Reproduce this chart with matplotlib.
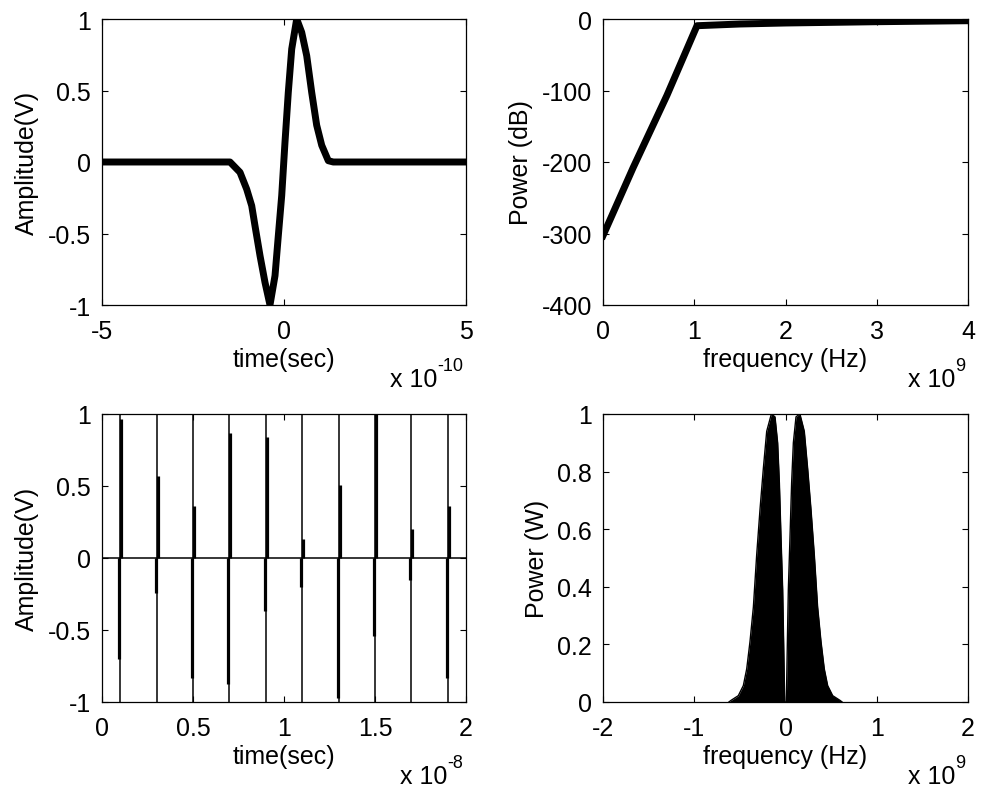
import matplotlib
matplotlib.use("Agg")
import matplotlib.pyplot as plt
from matplotlib.ticker import FuncFormatter, FixedLocator
from matplotlib.transforms import offset_copy

plt.rcParams['font.family'] = ['Liberation Sans', 'DejaVu Sans']
FS = 18

# ---- Data: single pulse (time in 1e-10 s, amplitude in V)
pulse_t = [-5.0, -1.484, -1.209, -1.025, -0.887, -0.797, -0.659, -0.522, -0.385,
           -0.247, -0.156, -0.063, 0.027, 0.118, 0.212, 0.349, 0.486, 0.624,
           0.761, 0.898, 1.036, 1.217, 1.354, 5.0]
pulse_v = [0.0, 0.0, -0.072, -0.19, -0.306, -0.446, -0.655, -0.842, -1.0,
           -0.795, -0.515, -0.235, 0.138, 0.487, 0.79, 1.0, 0.907, 0.743,
           0.487, 0.257, 0.117, 0.009, 0.0, 0.0]

# ---- Data: power spectrum in dB (frequency in 1e9 Hz)
psd_f = [0.0, 0.33, 0.70, 1.03, 1.5, 2.0, 3.0, 4.0]
psd_db = [-303, -208, -107, -9.4, -7, -5.6, -3.8, -2.4]

# ---- Data: pulse train (pulse centres in 1e-8 s)
train_t = [0.1, 0.3, 0.5, 0.7, 0.9, 1.1, 1.3, 1.5, 1.7, 1.9]
train_pos = [0.965, 0.57, 0.36, 0.87, 0.84, 0.13, 0.51, 1.0, 0.20, 0.36]
train_neg = [-0.70, -0.24, -0.83, -0.875, -0.37, -0.20, -0.97, -0.54, -0.15, -0.83]

# ---- Data: power spectrum in W (frequency in 1e9 Hz)
spec_f = [-0.62, -0.60, -0.517, -0.462, -0.425, -0.389, -0.352, -0.316, -0.279,
          -0.243, -0.206, -0.155, -0.115, -0.086, -0.067, -0.049, -0.031, -0.02,
          -0.009, 0.009, 0.02, 0.031, 0.049, 0.067, 0.086, 0.115, 0.158, 0.206,
          0.243, 0.279, 0.316, 0.352, 0.389, 0.425, 0.462, 0.517, 0.60, 0.62]
spec_p = [0.0, 0.005, 0.022, 0.057, 0.115, 0.21, 0.33, 0.51, 0.67,
          0.81, 0.94, 1.0, 0.99, 0.90, 0.76, 0.57, 0.39, 0.20,
          0.0, 0.0, 0.20, 0.39, 0.57, 0.76, 0.90, 0.99, 1.0, 0.94,
          0.81, 0.67, 0.51, 0.33, 0.21, 0.115, 0.057, 0.022, 0.005, 0.0]

W, H = 981, 804
fig = plt.figure(figsize=(W / 100, H / 100), dpi=100)
renderer = fig.canvas.get_renderer()


def rect(x0, y0, x1, y1):
    return [x0 / W, 1 - y1 / H, (x1 - x0) / W, (y1 - y0) / H]


def style(ax, xlabel, ylabel, mult):
    ax.tick_params(direction='in', length=4, width=0.8, top=True, right=True,
                   labelsize=FS)
    ax.tick_params(axis='x', pad=10)
    ax.tick_params(axis='y', pad=8)
    for s in ax.spines.values():
        s.set_linewidth(0.9)
    ax.set_xlabel(xlabel, fontsize=FS, labelpad=3)
    ax.set_ylabel(ylabel, fontsize=FS, labelpad=6)
    # multiplier "x 10^n" below the right end of the x axis
    tr = offset_copy(ax.transAxes, fig=fig, x=-4 / 100 * 72 / 72, y=0, units='dots')
    base = offset_copy(ax.transAxes, fig=fig, x=-4, y=-81, units='dots')
    sup = ax.text(1.0, 0.0, mult, transform=offset_copy(ax.transAxes, fig=fig,
                  x=-3, y=-65, units='dots'),
                  ha='right', va='baseline', fontsize=FS * 0.72)
    w = sup.get_window_extent(renderer).width
    ax.text(1.0, 0.0, 'x 10', transform=offset_copy(ax.transAxes, fig=fig,
            x=-3 - w, y=-81, units='dots'),
            ha='right', va='baseline', fontsize=FS)


def scaled(exp):
    def f(v, p):
        return '%g' % round(v / 10 ** exp, 6)
    return FuncFormatter(f)


# Top-left
ax1 = fig.add_axes(rect(102, 20, 466, 306))
ax1.plot([t * 1e-10 for t in pulse_t], pulse_v, color='black', lw=5,
         solid_joinstyle='round')
ax1.set_xlim(-5e-10, 5e-10)
ax1.set_ylim(-1, 1)
ax1.xaxis.set_major_locator(FixedLocator([-5e-10, 0, 5e-10]))
ax1.xaxis.set_major_formatter(scaled(-10))
ax1.yaxis.set_major_locator(FixedLocator([-1, -0.5, 0, 0.5, 1]))
ax1.yaxis.set_major_formatter(FuncFormatter(lambda v, p: '%g' % v))
style(ax1, 'time(sec)', 'Amplitude(V)', '-10')

# Top-right
ax2 = fig.add_axes(rect(603, 20, 968, 306))
ax2.plot([f * 1e9 for f in psd_f], psd_db, color='black', lw=5)
ax2.set_xlim(0, 4e9)
ax2.set_ylim(-400, 0)
ax2.xaxis.set_major_locator(FixedLocator([0, 1e9, 2e9, 3e9, 4e9]))
ax2.xaxis.set_major_formatter(scaled(9))
ax2.yaxis.set_major_locator(FixedLocator([-400, -300, -200, -100, 0]))
ax2.yaxis.set_major_formatter(FuncFormatter(lambda v, p: '%g' % v))
style(ax2, 'frequency (Hz)', 'Power (dB)', '9')

# Bottom-left
ax3 = fig.add_axes(rect(102, 415, 466, 703))
ts = [t * 1e-8 for t in train_t]
ax3.axhline(0, color='black', lw=1.1)
ax3.vlines(ts, -1, 1, color='black', lw=1.1)
ax3.vlines([t + 0.6e-10 for t in ts], 0, train_pos, color='black', lw=2.3)
ax3.vlines([t - 0.6e-10 for t in ts], train_neg, 0, color='black', lw=2.3)
ax3.set_xlim(0, 2e-8)
ax3.set_ylim(-1, 1)
ax3.xaxis.set_major_locator(FixedLocator([0, 0.5e-8, 1e-8, 1.5e-8, 2e-8]))
ax3.xaxis.set_major_formatter(scaled(-8))
ax3.yaxis.set_major_locator(FixedLocator([-1, -0.5, 0, 0.5, 1]))
ax3.yaxis.set_major_formatter(FuncFormatter(lambda v, p: '%g' % v))
style(ax3, 'time(sec)', 'Amplitude(V)', '-8')

# Bottom-right
ax4 = fig.add_axes(rect(603, 415, 968, 703))
fs_hz = [f * 1e9 for f in spec_f]
ax4.fill_between(fs_hz, 0, spec_p, color='black', lw=0)
ax4.plot(fs_hz, spec_p, color='black', lw=1)
ax4.set_xlim(-2e9, 2e9)
ax4.set_ylim(0, 1)
ax4.xaxis.set_major_locator(FixedLocator([-2e9, -1e9, 0, 1e9, 2e9]))
ax4.xaxis.set_major_formatter(scaled(9))
ax4.yaxis.set_major_locator(FixedLocator([0, 0.2, 0.4, 0.6, 0.8, 1]))
ax4.yaxis.set_major_formatter(FuncFormatter(lambda v, p: '%g' % v))
style(ax4, 'frequency (Hz)', 'Power (W)', '9')

fig.savefig('out.png', dpi=100)
